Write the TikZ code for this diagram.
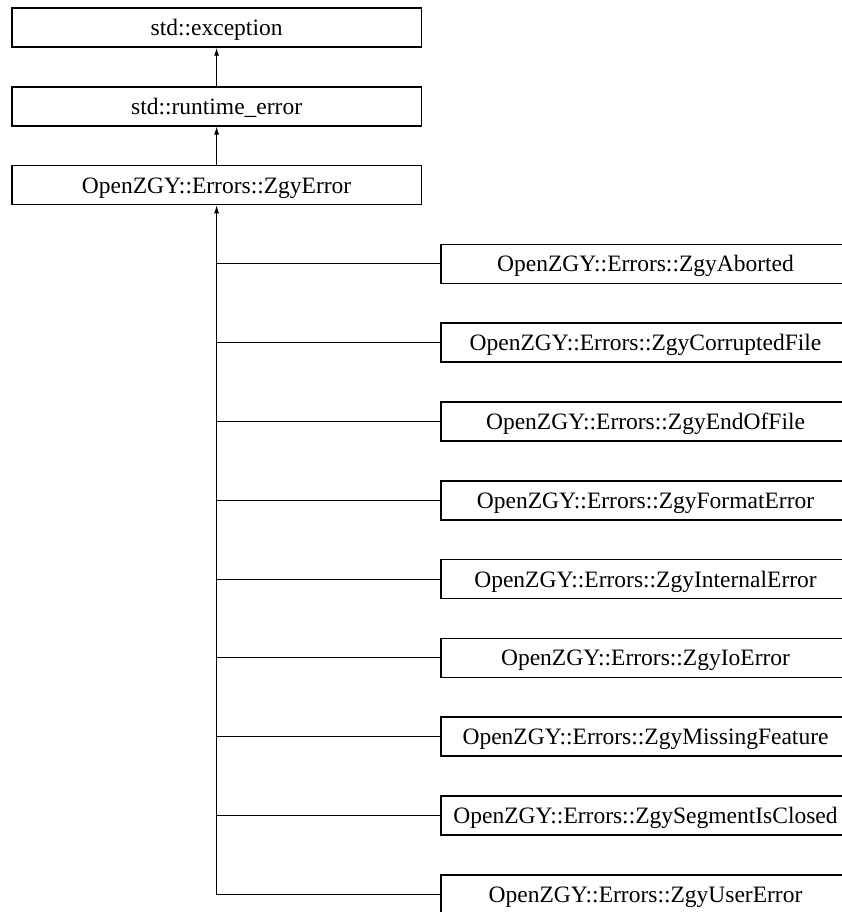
\documentclass[tikz,border=0pt]{standalone}
\usepackage{fontspec}
\setmainfont{Liberation Serif}
\usetikzlibrary{arrows.meta}
\tikzset{
  classbox/.style={draw=black, line width=1.5pt, fill=white, minimum width=409.5pt,
    minimum height=39pt, inner sep=0pt, text height=16pt, text depth=0pt,
    font=\fontsize{23.5}{28}\selectfont},
  inherit/.style={line width=0.9pt, -{Latex[length=8pt,width=5pt]}},
  link/.style={line width=0.9pt}
}
\begin{document}
\begin{tikzpicture}[x=1pt,y=-1pt]
\useasboundingbox (0,0) rectangle (842,912);
\node[classbox] (exc) at (216.6,27.5) {std::exception};
\node[classbox] (rt) at (216.6,106.3) {std::runtime\_error};
\node[classbox] (zgy) at (216.6,185.1) {OpenZGY::Errors::ZgyError};
\node[classbox] (c1) at (645.5,263.9) {OpenZGY::Errors::ZgyAborted};
\node[classbox] (c2) at (645.5,342.7) {OpenZGY::Errors::ZgyCorruptedFile};
\node[classbox] (c3) at (645.5,421.5) {OpenZGY::Errors::ZgyEndOfFile};
\node[classbox] (c4) at (645.5,500.3) {OpenZGY::Errors::ZgyFormatError};
\node[classbox] (c5) at (645.5,579.1) {OpenZGY::Errors::ZgyInternalError};
\node[classbox] (c6) at (645.5,657.9) {OpenZGY::Errors::ZgyIoError};
\node[classbox] (c7) at (645.5,736.7) {OpenZGY::Errors::ZgyMissingFeature};
\node[classbox] (c8) at (645.5,815.5) {OpenZGY::Errors::ZgySegmentIsClosed};
\node[classbox] (c9) at (645.5,894.3) {OpenZGY::Errors::ZgyUserError};
\draw[inherit] (rt.north) -- (exc.south);
\draw[inherit] (zgy.north) -- (rt.south);
\draw[inherit] (c9.west) -| (zgy.south);
\foreach \c in {c1,c2,c3,c4,c5,c6,c7,c8}
  \draw[link] (\c.west) -- (\c.west -| zgy.south);
\end{tikzpicture}
\end{document}
